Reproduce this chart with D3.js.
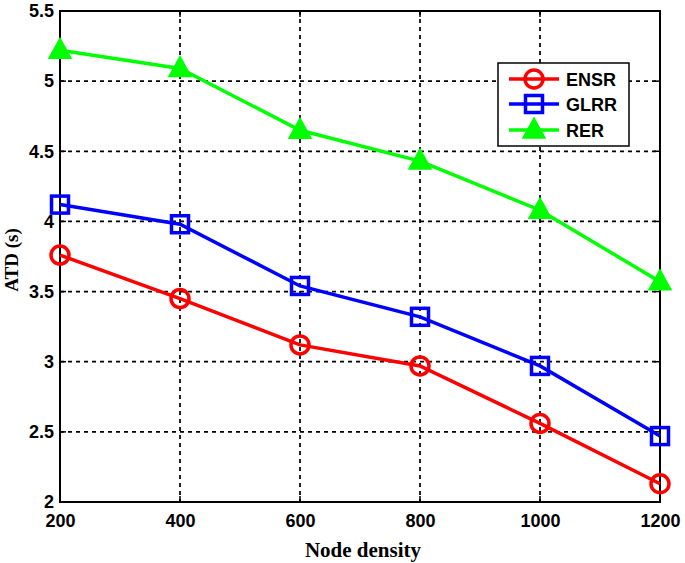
<!DOCTYPE html>
<html><head><meta charset="utf-8">
<script src="https://cdn.jsdelivr.net/npm/d3@7"></script>
<style>body{margin:0;background:#fff;}</style>
</head><body>
<svg id="c" width="685" height="563"></svg>
<script>
const nodeDensity = [200, 400, 600, 800, 1000, 1200];
const ensr = [3.76, 3.45, 3.12, 2.97, 2.56, 2.13];
const glrr = [4.12, 3.98, 3.54, 3.32, 2.97, 2.47];
const rer  = [5.22, 5.09, 4.65, 4.43, 4.08, 3.57];
const xTicks = [200, 400, 600, 800, 1000, 1200];
const yTicks = [2, 2.5, 3, 3.5, 4, 4.5, 5, 5.5];
const seriesNames = ["ENSR", "GLRR", "RER"];
const seriesColors = ["#ff0000", "#0000ff", "#00ff00"];
const seriesMarkers = ["circle", "square", "triangle"];
const seriesData = [ensr, glrr, rer];

const svg = d3.select("#c");
const L = 60, R = 660, T = 11, B = 502;
const x = d3.scaleLinear().domain([200, 1200]).range([L, R]);
const y = d3.scaleLinear().domain([2, 5.5]).range([B, T]);

// grid
const g = svg.append("g");
g.selectAll(".vg").data(xTicks.slice(1, -1)).enter().append("line")
  .attr("x1", d => x(d)).attr("x2", d => x(d)).attr("y1", T).attr("y2", B)
  .attr("stroke", "#000").attr("stroke-width", 1.7).attr("stroke-dasharray", "4,4");
g.selectAll(".hg").data(yTicks.slice(1, -1)).enter().append("line")
  .attr("y1", d => y(d)).attr("y2", d => y(d)).attr("x1", L).attr("x2", R)
  .attr("stroke", "#000").attr("stroke-width", 1.7).attr("stroke-dasharray", "4,4");

// axes
const xAxis = d3.axisBottom(x).tickValues(xTicks).tickSize(0).tickPadding(12).tickFormat(d3.format("d"));
const yAxis = d3.axisLeft(y).tickValues(yTicks).tickSize(0).tickPadding(6).tickFormat(d => d);
const xa = svg.append("g").attr("transform", `translate(0,${B})`).call(xAxis);
const ya = svg.append("g").attr("transform", `translate(${L},0)`).call(yAxis);
[xa, ya].forEach(a => {
  a.select(".domain").remove();
  a.selectAll("text").attr("font-family", "Arial, 'Liberation Sans', sans-serif")
    .attr("font-weight", "bold").attr("font-size", 18).attr("fill", "#000");
});
// inward ticks
svg.selectAll(".xt").data(xTicks).enter().append("line")
  .attr("x1", d => x(d)).attr("x2", d => x(d)).attr("y1", B).attr("y2", B - 6)
  .attr("stroke", "#000").attr("stroke-width", 1.5);
svg.selectAll(".xt2").data(xTicks).enter().append("line")
  .attr("x1", d => x(d)).attr("x2", d => x(d)).attr("y1", T).attr("y2", T + 6)
  .attr("stroke", "#000").attr("stroke-width", 1.5);
svg.selectAll(".yt").data(yTicks).enter().append("line")
  .attr("y1", d => y(d)).attr("y2", d => y(d)).attr("x1", L).attr("x2", L + 6)
  .attr("stroke", "#000").attr("stroke-width", 1.5);
svg.selectAll(".yt2").data(yTicks).enter().append("line")
  .attr("y1", d => y(d)).attr("y2", d => y(d)).attr("x1", R).attr("x2", R - 6)
  .attr("stroke", "#000").attr("stroke-width", 1.5);

svg.append("rect").attr("x", L).attr("y", T).attr("width", R - L).attr("height", B - T)
  .attr("fill", "none").attr("stroke", "#000").attr("stroke-width", 2);

// axis titles
svg.append("text").attr("x", 363).attr("y", 557).attr("text-anchor", "middle")
  .attr("font-family", "'Liberation Serif', 'Times New Roman', serif").attr("font-weight", "bold")
  .attr("font-size", 21).text("Node density");
svg.append("text").attr("transform", `translate(18,260) rotate(-90)`).attr("text-anchor", "middle")
  .attr("font-family", "'Liberation Serif', 'Times New Roman', serif").attr("font-weight", "bold")
  .attr("font-size", 19).text("ATD (s)");

function drawMarker(sel, type, color, cx, cy) {
  if (type === "circle") {
    sel.append("circle").attr("cx", cx).attr("cy", cy).attr("r", 9)
      .attr("fill", "none").attr("stroke", color).attr("stroke-width", 3.5);
  } else if (type === "square") {
    sel.append("rect").attr("x", cx - 8.5).attr("y", cy - 8.5).attr("width", 17).attr("height", 17)
      .attr("fill", "none").attr("stroke", color).attr("stroke-width", 3.5);
  } else {
    const h = 20, w = 22;
    sel.append("path").attr("d", `M${cx},${cy - h * 0.6} L${cx + w / 2},${cy + h * 0.4} L${cx - w / 2},${cy + h * 0.4} Z`)
      .attr("fill", color).attr("stroke", color).attr("stroke-width", 1.5);
  }
}

const line = d3.line().x((d, i) => x(nodeDensity[i])).y(d => y(d));
seriesData.forEach((data, k) => {
  const sg = svg.append("g");
  sg.append("path").datum(data).attr("d", line).attr("fill", "none")
    .attr("stroke", seriesColors[k]).attr("stroke-width", 3.5);
  data.forEach((v, i) => drawMarker(sg, seriesMarkers[k], seriesColors[k], x(nodeDensity[i]), y(v)));
});

// legend
const lg = svg.append("g");
lg.append("rect").attr("x", 498).attr("y", 63).attr("width", 131).attr("height", 83)
  .attr("fill", "#fff").attr("stroke", "#000").attr("stroke-width", 1.5);
const ly = [79, 104, 130];
seriesNames.forEach((n, k) => {
  lg.append("line").attr("x1", 509).attr("x2", 559).attr("y1", ly[k]).attr("y2", ly[k])
    .attr("stroke", seriesColors[k]).attr("stroke-width", 3.5);
  drawMarker(lg, seriesMarkers[k], seriesColors[k], 534, ly[k]);
  lg.append("text").attr("x", 566).attr("y", ly[k] + 6.5).text(n)
    .attr("font-family", "Arial, 'Liberation Sans', sans-serif").attr("font-weight", "bold")
    .attr("font-size", 18);
});
</script>
</body></html>
